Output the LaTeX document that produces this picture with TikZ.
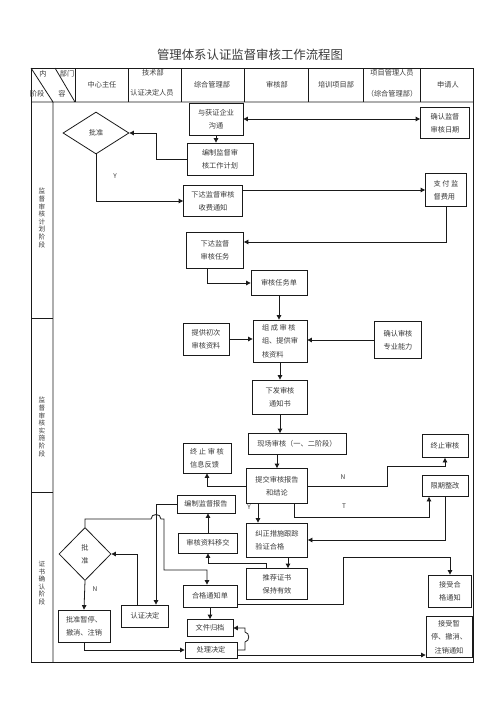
\documentclass[tikz,border=0pt]{standalone}
\usepackage{fontspec}
\setmainfont{Noto Sans CJK SC}
\usetikzlibrary{arrows.meta,shapes.geometric}
\definecolor{audInk}{HTML}{1A1A1A}
\definecolor{audText}{HTML}{3A3A3A}
\tikzset{
  aud frame/.style={draw=audInk, line width=0.8pt},
  aud box/.style={draw=audInk, line width=0.8pt, inner sep=0pt, align=center, text=audText, font=\fontsize{7.2}{13.3}\selectfont},
  aud decision/.style={aud box, diamond},
  aud link/.style={draw=audInk, line width=0.8pt},
  aud flow/.style={aud link, -{Triangle[length=4.5pt,width=4.5pt]}},
  aud both/.style={aud link, {Triangle[length=4.5pt,width=4.5pt]}-{Triangle[length=4.5pt,width=4.5pt]}},
  aud head/.style={text=audText, font=\fontsize{7.2}{9}\selectfont},
  aud stage/.style={text=audText, align=center, font=\fontsize{6.6}{7.6}\selectfont},
  aud mark/.style={text=audText, font=\fontsize{6.5}{7}\selectfont},
}
\begin{document}
\begin{tikzpicture}[x=1pt,y=-1pt]
  \useasboundingbox (0,0) rectangle (497,702);
  \node[text=audText, font=\fontsize{12.4}{14}\selectfont] (title) at (250,55) {管理体系认证监督审核工作流程图};
  \draw[aud frame] (31,68) rectangle (473,662);
  \draw[aud frame] (31,102) -- (473,102) (53,102) -- (53,662) (31,68) -- (53,102) (55,68) -- (75,102);
  \foreach \x in {75,128,181,244,308,363,420}{\draw[aud frame] (\x,68) -- (\x,102);}
  \foreach \y in {318,492}{\draw[aud frame] (31,\y) -- (53,\y);}
  \foreach \n/\x/\y/\t in {h1/102/85/中心主任,h2/153/73/技术部,h3/152/93/认证决定人员,h4/212/85/综合管理部,h5/277/85/审核部,h6/336/85/培训项目部,h7/392/73/项目管理人员,h8/392/94/（综合管理部）,h9/448/85/申请人,c1/43/74/内,c2/67/74/部门,c3/37/94/阶段,c4/62/94/容}{\node[aud head] (\n) at (\x,\y) {\t};}
  \node[aud stage] (s1) at (42,218) {监\\督\\审\\核\\计\\划\\阶\\段};
  \node[aud stage] (s2) at (42,427) {监\\督\\审\\核\\实\\施\\阶\\段};
  \node[aud stage] (s3) at (42,583) {证\\书\\确\\认\\阶\\段};

  \node[aud decision, minimum width=66, minimum height=42] (apv1) at (96,133) {批准};
  \node[aud box, minimum width=54, minimum height=32] (comm) at (216,119) {与获证企业\\沟通};
  \node[aud box, minimum width=66, minimum height=32] (plan) at (220,159) {编制监督审\\核工作计划};
  \node[aud box, minimum width=49, minimum height=31] (confirm) at (445,123) {确认监督\\审核日期};
  \node[aud box, minimum width=59, minimum height=31] (fee) at (213,201) {下达监督审核\\收费通知};
  \node[aud box, minimum width=41, minimum height=33, align=left] (pay) at (446,190) {支 付 监\\督费用};
  \node[aud box, minimum width=57, minimum height=36] (task) at (215,250) {下达监督\\审核任务};
  \node[aud box, minimum width=56, minimum height=25] (tasklist) at (279,283) {审核任务单};
  \node[aud box, minimum width=46, minimum height=32] (initial) at (206,339) {提供初次\\审核资料};
  \node[aud box, minimum width=54, minimum height=42, align=left] (team) at (280,341) {组 成 审 核\\组、提供审\\核资料};
  \node[aud box, minimum width=47, minimum height=37] (ability) at (398,340) {确认审核\\专业能力};
  \node[aud box, minimum width=55, minimum height=34] (issue) at (280,397) {下发审核\\通知书};
  \node[aud box, minimum width=98, minimum height=21] (onsite) at (297,444) {现场审核（一、二阶段）};
  \node[aud box, minimum width=61, minimum height=35] (submit) at (277,486) {提交审核报告\\和结论};
  \node[aud box, minimum width=46, minimum height=23] (stopaud) at (445,446) {终止审核};
  \node[aud box, minimum width=46, minimum height=21] (rectify) at (445,486) {限期整改};
  \node[aud box, minimum width=48, minimum height=30, align=left] (feedback) at (207,458) {终 止 审 核\\信息反馈};
  \node[aud box, minimum width=58, minimum height=18] (report) at (206,504) {编制监督报告};
  \node[aud box, minimum width=61, minimum height=34, align=left] (verify) at (277,540) {纠正措施跟踪\\验证合格};
  \node[aud box, minimum width=59, minimum height=20] (transfer) at (208,543) {审核资料移交};
  \node[aud box, minimum width=61, minimum height=31] (keep) at (277,584) {推荐证书\\保持有效};
  \node[aud box, minimum width=43, minimum height=32] (accept) at (450,591) {接受合\\格通知};
  \node[aud box, minimum width=47, minimum height=22] (decision) at (145,616) {认证决定};
  \node[aud decision, minimum width=52, minimum height=53] (apv2) at (85,554) {批\\准};
  \node[aud box, minimum width=52, minimum height=32, align=left] (suspend) at (84,626) {批准暂停、\\撤消、注销};
  \node[aud box, minimum width=54, minimum height=22] (notice) at (210,596) {合格通知单};
  \node[aud box, minimum width=46, minimum height=17] (archive) at (210,628) {文件归档};
  \node[aud box, minimum width=52, minimum height=16] (deal) at (211,650) {处理决定};
  \node[aud box, minimum width=46, minimum height=41] (stop) at (449,637) {接受暂\\停、撤消、\\注销通知};

  \node[aud mark] (m1) at (115,176) {Y};
  \node[aud mark] (m2) at (343,477) {N};
  \node[aud mark] (m3) at (249,507) {Y};
  \node[aud mark] (m4) at (344,506) {T};
  \node[aud mark] (m5) at (95,589) {N};

  \draw[aud flow] (comm.south) -- (comm.south |- plan.north);
  \draw[aud flow] (plan.west) -- ++(-30,0) |- (apv1.east);
  \draw[aud both] (comm.east) -- (comm.east -| confirm.west);
  \draw[aud flow] (apv1.south) |- (fee.west);
  \draw[aud flow] (pay.west -| fee.east) -- (pay.west);
  \draw[aud flow] (pay.south) |- ([yshift=8pt]task.east);
  \draw[aud flow] ([xshift=-8pt]task.south) |- (tasklist.west);
  \draw[aud flow] (tasklist.south) -- (tasklist.south |- team.north);
  \draw[aud flow] (initial.east) -- (initial.east -| team.west);
  \draw[aud flow] (ability.west) -- (ability.west -| team.east);
  \draw[aud flow] (team.south) -- (team.south |- issue.north);
  \draw[aud flow] (issue.south) -- (issue.south |- onsite.north);
  \draw[aud flow] (onsite.south -| submit.north) -- (submit.north);
  \draw[aud flow] (submit.east) -| (387,466) -| (stopaud.south);
  \draw[aud flow] (submit.west) -| (feedback.south);
  \draw[aud flow] ([xshift=-19pt]submit.south) coordinate (sy) -- (sy |- verify.north);
  \draw[aud flow] ([xshift=17pt]submit.south) -- ++(0,13) -| ([xshift=-16pt]rectify.south);
  \draw[aud flow] (rectify.south) |- (verify.east);
  \draw[aud flow] (report.west) -| ([xshift=11pt]decision.north);
  \draw[aud flow] (transfer.north) -- (transfer.north |- report.south);
  \draw[aud flow] ([xshift=-11pt]keep.north) -- ++(0,-5) -| (transfer.south);
  \draw[aud flow] ([xshift=11pt]verify.south) coordinate (vk) -- (vk |- keep.north);
  \draw[aud flow] ([yshift=-8pt]notice.east) -| (343,557) -| (accept.north);
  \draw[aud flow] ([xshift=-8pt]decision.north) |- (apv2.east);
  \draw[aud flow] (apv2.north) |- (151,519) .. controls (151,513) and (161,513) .. (161,519) -- (164,519) -- (164,570) -| ([xshift=-3pt]notice.north);
  \draw[aud flow] (apv2.south) -- (suspend.north);
  \draw[aud flow] (suspend.south) |- (deal.west);
  \draw[aud flow] (notice.south) -- (notice.south |- archive.north);
  \draw[aud flow] (deal.east) -| (245,642) .. controls (250,641) and (250,633) .. (245,632) |- (archive.east);
  \draw[aud flow] ([yshift=-5pt]deal.east) coordinate (dq) -- (dq -| stop.west);
\end{tikzpicture}
\end{document}
